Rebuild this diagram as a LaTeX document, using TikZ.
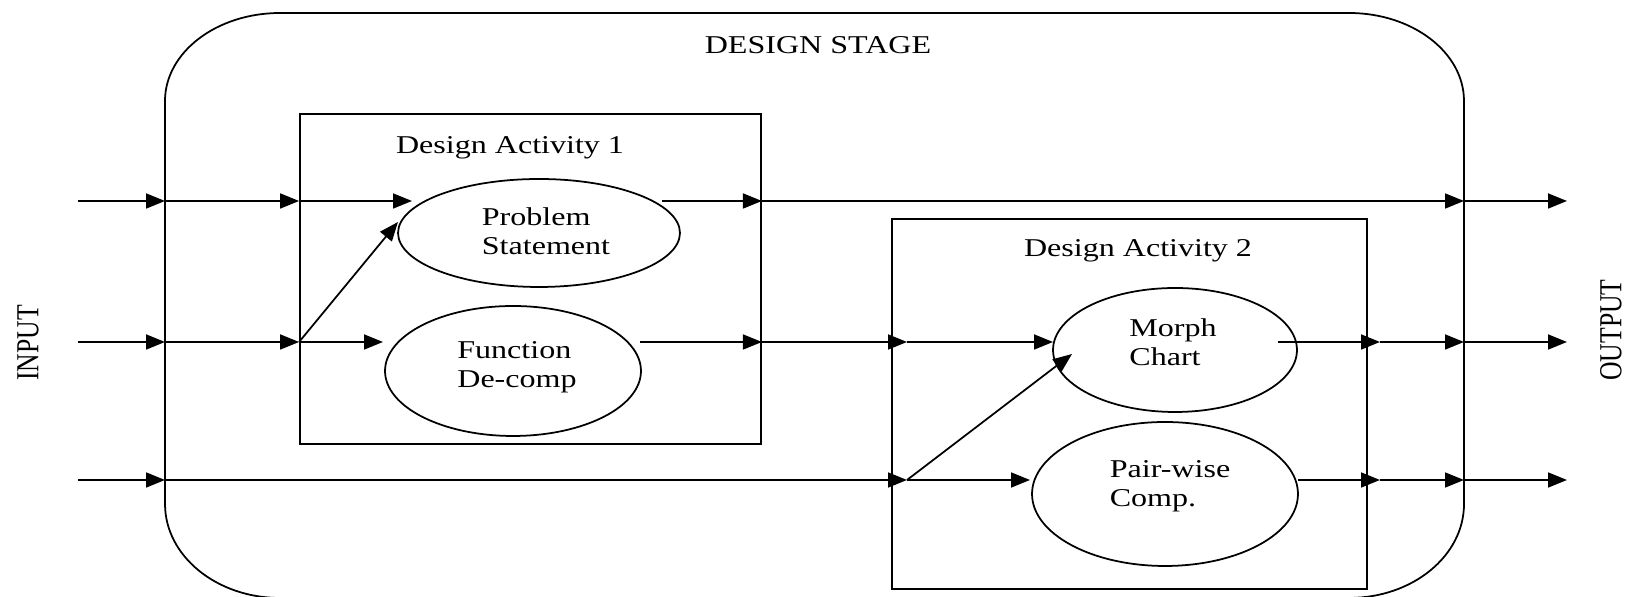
\documentclass[tikz,border=0pt]{standalone}
\usepackage{fontspec}
\setmainfont{Liberation Serif}
\usetikzlibrary{arrows.meta,shapes.geometric}
\newcommand\wtxt[1]{\scalebox{1.25}[1]{#1}}
\begin{document}
\begin{tikzpicture}[x=0.02cm,y=0.02cm,
  line width=1pt,
  every node/.style={font=\fontsize{14.6}{16.4}\selectfont},
  actbox/.style={draw,line width=1.1pt,inner sep=0pt},
  ell/.style={draw,ellipse,inner sep=0pt},
  lbl/.style={align=left,inner sep=0pt},
  arr/.style={-{Triangle[length=0.38cm,width=0.3cm]}}
]
\useasboundingbox (0,0) rectangle (1627,597);
\clip (0,0) rectangle (1627,597);
% outer design stage
\draw (165,93) -- (165,496)
  arc[start angle=180,end angle=90,x radius=2.3cm,y radius=1.76cm]
  -- (1349,584)
  arc[start angle=90,end angle=0,x radius=2.3cm,y radius=1.76cm]
  -- (1464,93)
  arc[start angle=0,end angle=-90,x radius=2.3cm,y radius=1.88cm]
  -- (280,-1)
  arc[start angle=270,end angle=180,x radius=2.3cm,y radius=1.88cm]
  -- cycle;
\node (stage) at (818,552) {\wtxt{DESIGN STAGE}};
\node[rotate=90] (input) at (28,254) {\scalebox{1}[1.25]{INPUT}};
\node[rotate=90] (output) at (1611,267) {\scalebox{1}[1.25]{OUTPUT}};
% activity boxes
\node[actbox,minimum width=9.22cm,minimum height=6.6cm] (A1) at (530.5,318) {};
\node[actbox,minimum width=9.5cm,minimum height=7.4cm] (A2) at (1129.5,193) {};
\node[anchor=base] (t1) at (510,443) {\wtxt{Design Activity 1}};
\node[anchor=base] (t2) at (1138,340) {\wtxt{Design Activity 2}};
% ellipses
\node[ell,minimum width=5.64cm,minimum height=2.16cm,
  label={[lbl,xshift=0.14cm,yshift=0.04cm]center:\wtxt{Problem}\\\wtxt{Statement}}] (PS) at (539,364) {};
\node[ell,minimum width=5.12cm,minimum height=2.6cm,
  label={[lbl,xshift=0.08cm,yshift=0.08cm]center:\wtxt{Function}\\\wtxt{De-comp}}] (FD) at (513,226) {};
\node[ell,minimum width=4.88cm,minimum height=2.48cm,
  label={[lbl,xshift=-0.04cm,yshift=0.16cm]center:\wtxt{Morph}\\\wtxt{Chart}}] (MC) at (1175,247) {};
\node[ell,minimum width=5.32cm,minimum height=2.88cm,
  label={[lbl,xshift=0.1cm,yshift=0.16cm]center:\wtxt{Pair-wise}\\\wtxt{Comp.}}] (PW) at (1165,103) {};
% coordinates
\coordinate (inT) at (78,396);
\coordinate (inM) at (78,255);
\coordinate (inB) at (78,117);
\coordinate (oLT) at (165,396);
\coordinate (oLM) at (165,255);
\coordinate (oLB) at (165,117);
\coordinate (a1T) at (A1.west |- inT);
\coordinate (a1M) at (A1.west |- inM);
\coordinate (psIn) at (412,396);
\coordinate (psDiag) at (398,375);
\coordinate (fdIn) at (383,255);
\coordinate (psOut) at (662,396);
\coordinate (fdOut) at (640,255);
\coordinate (a1oT) at (A1.east |- inT);
\coordinate (a1oM) at (A1.east |- inM);
\coordinate (a2M) at (907,255);
\coordinate (a2B) at (907,117);
\coordinate (mcIn) at (1053,255);
\coordinate (mcDiag) at (1072,243);
\coordinate (pwIn) at (1030,117);
\coordinate (mcOut) at (1278,255);
\coordinate (pwOut) at (1298,117);
\coordinate (a2oM) at (1380,255);
\coordinate (a2oB) at (1380,117);
\coordinate (oRT) at (1464,396);
\coordinate (oRM) at (1464,255);
\coordinate (oRB) at (1464,117);
\coordinate (outT) at (1567,396);
\coordinate (outM) at (1567,255);
\coordinate (outB) at (1567,117);
% top row
\draw[arr] (inT) -- (oLT);
\draw[arr] (oLT) -- (a1T);
\draw[arr] (a1T) -- (psIn);
\draw[arr] (a1M) -- (psDiag);
\draw[arr] (psOut) -- (a1oT);
\draw[arr] (a1oT) -- (oRT);
\draw[arr] (oRT) -- (outT);
% middle row
\draw[arr] (inM) -- (oLM);
\draw[arr] (oLM) -- (a1M);
\draw[arr] (a1M) -- (fdIn);
\draw[arr] (fdOut) -- (a1oM);
\draw[arr] (a1oM) -- (a2M);
\draw[arr] (a2M) -- (mcIn);
\draw[arr] (a2B) -- (mcDiag);
\draw[arr] (mcOut) -- (a2oM);
\draw[arr] (a2oM) -- (oRM);
\draw[arr] (oRM) -- (outM);
% bottom row
\draw[arr] (inB) -- (oLB);
\draw[arr] (oLB) -- (a2B);
\draw[arr] (a2B) -- (pwIn);
\draw[arr] (pwOut) -- (a2oB);
\draw[arr] (a2oB) -- (oRB);
\draw[arr] (oRB) -- (outB);
\end{tikzpicture}
\end{document}
